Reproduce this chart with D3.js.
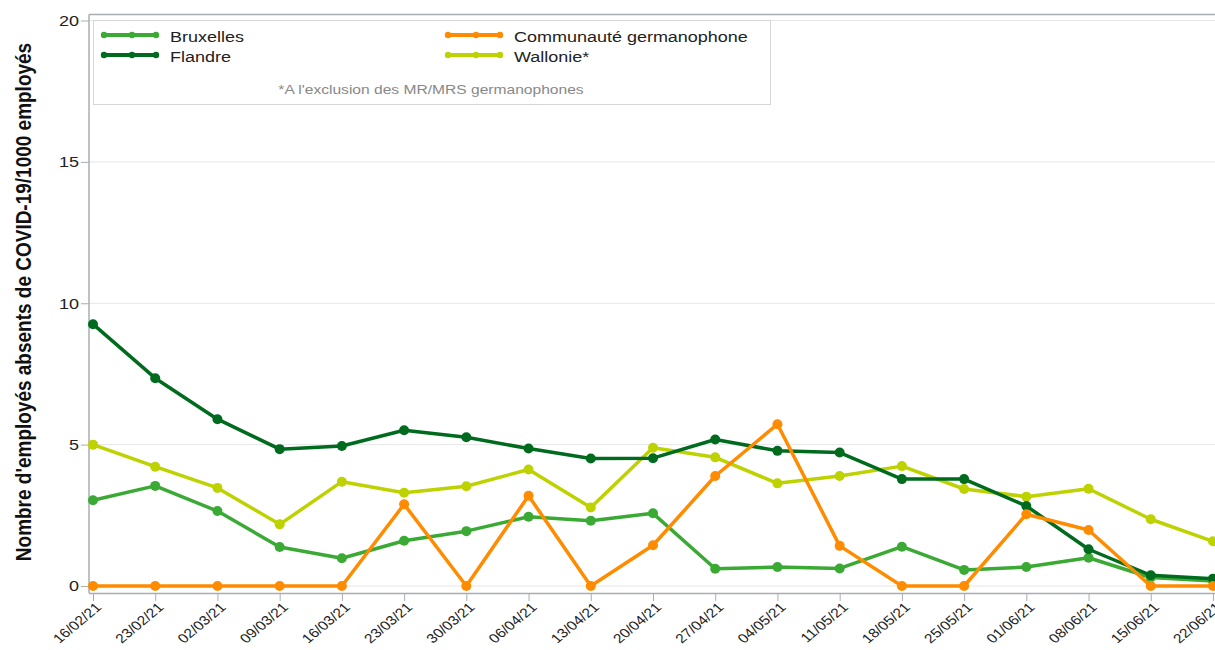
<!DOCTYPE html>
<html>
<head>
<meta charset="utf-8">
<script src="https://cdn.jsdelivr.net/npm/d3@7"></script>
<style>
  body { margin: 0; background: #fff; }
  svg { display: block; font-family: "Liberation Sans", Arial, sans-serif; }
</style>
</head>
<body>
<div id="chart"></div>
<script>
// Weekly dates (x categories)
const dates = ['16/02/21', '23/02/21', '02/03/21', '09/03/21', '16/03/21', '23/03/21', '30/03/21',
    '06/04/21', '13/04/21', '20/04/21', '27/04/21', '04/05/21', '11/05/21', '18/05/21',
    '25/05/21', '01/06/21', '08/06/21', '15/06/21', '22/06/21'];

// Series values (absent employees per 1000)
const bruxelles = [3.03, 3.54, 2.65, 1.38, 0.98, 1.60, 1.94, 2.45, 2.31, 2.57, 0.61, 0.67, 0.62, 1.39, 0.57, 0.67, 1.00, 0.30, 0.18];
const flandre = [9.26, 7.35, 5.90, 4.84, 4.95, 5.51, 5.26, 4.86, 4.51, 4.52, 5.18, 4.78, 4.72, 3.78, 3.78, 2.83, 1.30, 0.38, 0.26];
const communaute = [0, 0, 0, 0, 0, 2.89, 0, 3.19, 0, 1.44, 3.89, 5.72, 1.42, 0, 0, 2.54, 1.98, 0, 0];
const wallonie = [5.00, 4.22, 3.47, 2.18, 3.69, 3.30, 3.53, 4.12, 2.78, 4.89, 4.55, 3.63, 3.89, 4.24, 3.43, 3.16, 3.44, 2.36, 1.58];

const yTicks = [0, 5, 10, 15, 20];

const seriesList = [
    { name: 'Bruxelles', values: bruxelles, color: '#3aaa35' },
    { name: 'Flandre', values: flandre, color: '#006b1e' },
    { name: 'Communauté germanophone', values: communaute, color: '#ff8c00' },
    { name: 'Wallonie*', values: wallonie, color: '#bed200' }
];

const width = 1215, height = 650;
const stretch = 1.2; // text in the original looks horizontally stretched
const axisColor = '#a8adb3';

const svg = d3.select('#chart').append('svg')
    .attr('width', width)
    .attr('height', height);

// Plot area
const plotLeft = 89, plotTop = 14.5, axisY = 593;
const x = d3.scalePoint().domain(dates).range([93, 1213]);
const y = d3.scaleLinear().domain([0, 20]).range([586, 20.5]);

// Gridlines
svg.append('g')
    .selectAll('line')
    .data(yTicks)
    .enter().append('line')
    .attr('x1', plotLeft)
    .attr('x2', width)
    .attr('y1', d => y(d))
    .attr('y2', d => y(d))
    .attr('stroke', '#e6e6e6')
    .attr('stroke-width', 1);

// Top frame line
svg.append('line')
    .attr('x1', plotLeft).attr('x2', width)
    .attr('y1', plotTop).attr('y2', plotTop)
    .attr('stroke', axisColor)
    .attr('stroke-width', 1.5);

// Y axis
const yAxis = svg.append('g')
    .attr('transform', `translate(${plotLeft},0)`)
    .call(d3.axisLeft(y).tickValues(yTicks).tickSize(8));
yAxis.select('.domain').remove();
yAxis.selectAll('.tick line').attr('stroke', axisColor);
yAxis.selectAll('.tick text')
    .attr('x', 0)
    .attr('fill', '#222')
    .attr('text-anchor', 'end')
    .style('font-size', '15px')
    .style('font-family', '"Liberation Sans", Arial, sans-serif')
    .attr('transform', `translate(-10,0) scale(${stretch},1)`);

svg.append('line')
    .attr('x1', plotLeft).attr('x2', plotLeft)
    .attr('y1', plotTop).attr('y2', axisY)
    .attr('stroke', axisColor)
    .attr('stroke-width', 1.5);

// X axis
const xAxis = svg.append('g')
    .attr('transform', `translate(0,${axisY})`)
    .call(d3.axisBottom(x).tickSize(8));
xAxis.select('.domain')
    .attr('d', `M${plotLeft},0.5H${width}`)
    .attr('stroke', axisColor)
    .attr('stroke-width', 1.5);
xAxis.selectAll('.tick line').attr('stroke', axisColor);
xAxis.selectAll('.tick text')
    .attr('fill', '#222')
    .style('font-size', '13px')
    .style('font-family', '"Liberation Sans", Arial, sans-serif')
    .attr('text-anchor', 'end')
    .attr('y', 0)
    .attr('dy', '0.35em')
    .attr('transform', `translate(5,12) scale(${stretch},1) rotate(-45)`);

// Y axis title
svg.append('text')
    .attr('transform', `translate(31,302) scale(${stretch},1) rotate(-90)`)
    .attr('text-anchor', 'middle')
    .attr('fill', '#111')
    .style('font-size', '19px')
    .style('font-weight', 'bold')
    .text("Nombre d'employés absents de COVID-19/1000 employés");

// Lines and markers
const line = d3.line()
    .x((d, i) => x(dates[i]))
    .y(d => y(d));

const drawOrder = [seriesList[0], seriesList[3], seriesList[1], seriesList[2]];
drawOrder.forEach(s => {
    const g = svg.append('g');
    g.append('path')
        .datum(s.values)
        .attr('fill', 'none')
        .attr('stroke', s.color)
        .attr('stroke-width', 3.5)
        .attr('stroke-linejoin', 'round')
        .attr('d', line);
    g.selectAll('circle')
        .data(s.values)
        .enter().append('circle')
        .attr('cx', (d, i) => x(dates[i]))
        .attr('cy', d => y(d))
        .attr('r', 5)
        .attr('fill', s.color);
});

// Legend
const legend = svg.append('g');
legend.append('rect')
    .attr('x', 93.5).attr('y', 20.5)
    .attr('width', 677).attr('height', 84)
    .attr('fill', '#fff')
    .attr('stroke', '#d6d6d6');

const legendPos = [
    { x: 104, y: 35 }, { x: 104, y: 55 },
    { x: 448, y: 35 }, { x: 448, y: 55 }
];
seriesList.forEach((s, i) => {
    const p = legendPos[i];
    const item = legend.append('g').attr('transform', `translate(${p.x},${p.y})`);
    item.append('line')
        .attr('x1', 0).attr('x2', 52)
        .attr('stroke', s.color)
        .attr('stroke-width', 4);
    item.selectAll('circle')
        .data([0, 28, 52])
        .enter().append('circle')
        .attr('cx', d => d)
        .attr('r', 3.2)
        .attr('fill', s.color);
    item.append('text')
        .attr('transform', `translate(66,7) scale(${stretch},1)`)
        .attr('fill', '#222')
        .style('font-size', '15px')
        .text(s.name);
});

legend.append('text')
    .attr('transform', `translate(431,94) scale(${stretch},1)`)
    .attr('text-anchor', 'middle')
    .attr('fill', '#888')
    .style('font-size', '13px')
    .text("*A l'exclusion des MR/MRS germanophones");
</script>
</body>
</html>
